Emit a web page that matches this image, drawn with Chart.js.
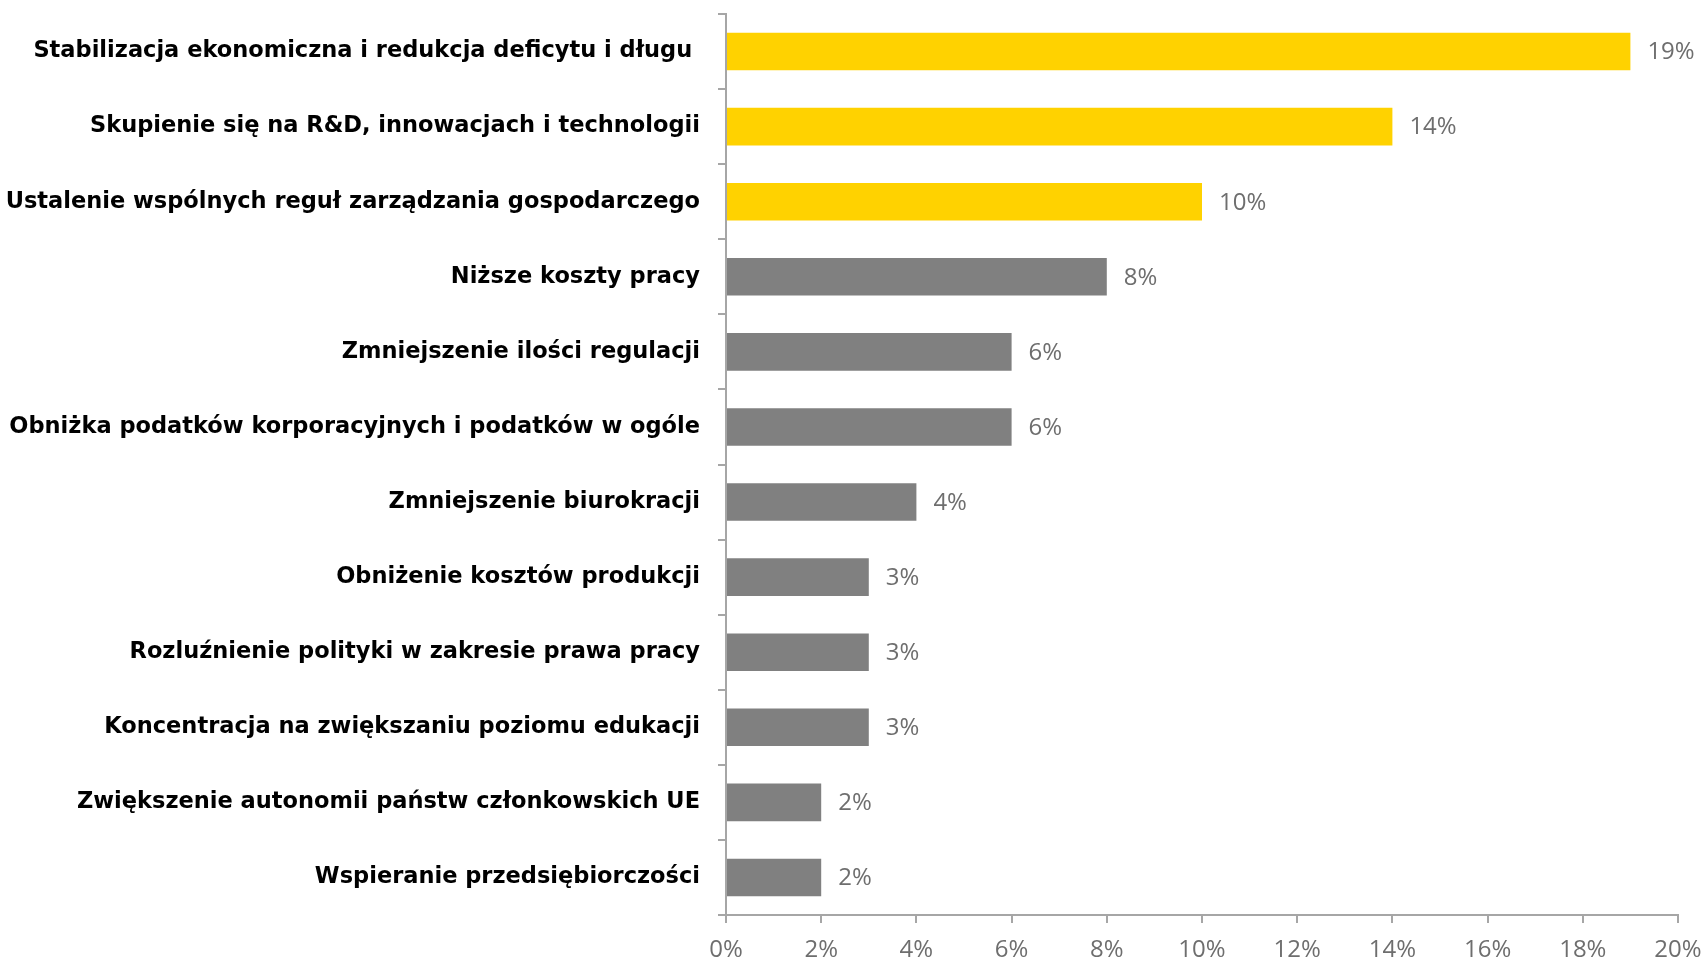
<!DOCTYPE html>
<html>
<head>
<meta charset="utf-8">
<script src="https://cdn.jsdelivr.net/npm/chart.js@4/dist/chart.umd.min.js"></script>
<style>
  html, body { margin: 0; padding: 0; background: #fff; }
  #wrap { width: 1703px; height: 962px; position: relative; }
</style>
</head>
<body>
<div id="wrap"><canvas id="chart"></canvas></div>
<script>
// kategorie i wartości (%)
const categories = [
    'Stabilizacja ekonomiczna i redukcja deficytu i długu ',
    'Skupienie się na R&D, innowacjach i technologii',
    'Ustalenie wspólnych reguł zarządzania gospodarczego',
    'Niższe koszty pracy',
    'Zmniejszenie ilości regulacji',
    'Obniżka podatków korporacyjnych i podatków w ogóle',
    'Zmniejszenie biurokracji',
    'Obniżenie kosztów produkcji',
    'Rozluźnienie polityki w zakresie prawa pracy',
    'Koncentracja na zwiększaniu poziomu edukacji',
    'Zwiększenie autonomii państw członkowskich UE',
    'Wspieranie przedsiębiorczości'
];
const values = [19, 14, 10, 8, 6, 6, 4, 3, 3, 3, 2, 2];
const highlighted = [true, true, true, false, false, false, false, false, false, false, false, false];

const YELLOW = '#FFD200';
const GREY = '#808080';
const AXIS = '#a6a6a6';

// etykiety wartości przy słupkach
const valueLabels = {
    id: 'valueLabels',
    afterDatasetsDraw: function (chart) {
        const ctx = chart.ctx;
        const meta = chart.getDatasetMeta(0);
        ctx.save();
        ctx.font = '24px "Open Sans", "Liberation Sans", sans-serif';
        ctx.fillStyle = '#6e6e6e';
        ctx.textAlign = 'left';
        ctx.textBaseline = 'middle';
        meta.data.forEach(function (bar, i) {
            ctx.fillText(values[i] + '%', bar.x + 17, bar.y + 1);
        });
        ctx.restore();
    }
};

new Chart(document.getElementById('chart').getContext('2d'), {
    type: 'bar',
    data: {
        labels: categories,
        datasets: [{
            data: values,
            backgroundColor: highlighted.map(function (h) { return h ? YELLOW : GREY; }),
            barPercentage: 0.5,
            categoryPercentage: 1.0
        }]
    },
    options: {
        indexAxis: 'y',
        responsive: true,
        maintainAspectRatio: false,
        animation: false,
        layout: { padding: { top: 14, right: 25, bottom: 0, left: 0 } },
        plugins: {
            legend: { display: false },
            tooltip: { enabled: false }
        },
        scales: {
            x: {
                min: 0,
                max: 20,
                border: { color: AXIS, width: 2 },
                grid: { drawOnChartArea: false, drawTicks: true, tickLength: 8, color: AXIS, lineWidth: 2 },
                ticks: {
                    stepSize: 2,
                    padding: 13,
                    color: '#6e6e6e',
                    font: { family: '"Open Sans", "Liberation Sans", sans-serif', size: 24 },
                    callback: function (v) { return v + '%'; }
                },
                afterFit: function (axis) {
                    axis.height = 47;
                    axis.paddingLeft = 0;
                    axis.paddingRight = 0;
                }
            },
            y: {
                border: { color: AXIS, width: 2 },
                grid: { offset: true, drawOnChartArea: false, drawTicks: true, tickLength: 8, color: AXIS, lineWidth: 2 },
                ticks: {
                    padding: 18,
                    color: '#000',
                    autoSkip: false,
                    font: { family: '"DejaVu Sans", sans-serif', size: 22.5, weight: 'bold' }
                },
                afterFit: function (axis) {
                    axis.width = 726;
                    axis.paddingTop = 0;
                    axis.paddingBottom = 0;
                }
            }
        }
    },
    plugins: [valueLabels]
});
</script>
</body>
</html>
